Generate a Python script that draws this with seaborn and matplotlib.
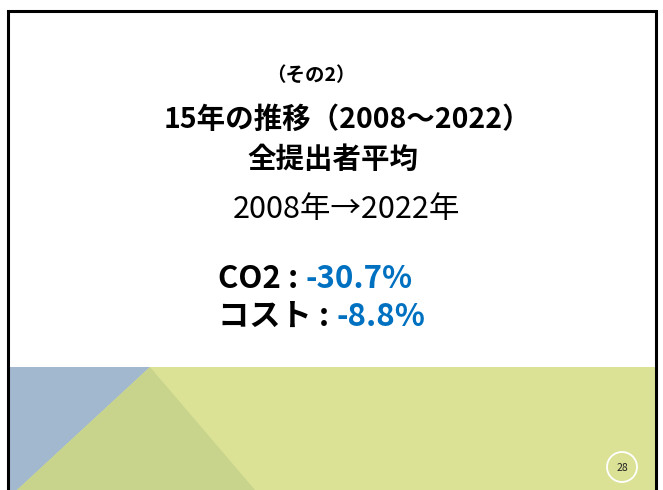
import matplotlib
matplotlib.use('Agg')
import matplotlib.pyplot as plt
import seaborn as sns
from matplotlib.patches import Polygon, Rectangle, Circle

sns.set_theme(style='white')
plt.rcParams['font.family'] = ['Noto Sans CJK JP', 'DejaVu Sans']

# slide text and values
subtitle = '（その2）'
title = '15年の推移（2008～2022）'
group = '全提出者平均'
period = '2008年→2022年'
items = ['CO2', 'コスト']
changes = [-30.7, -8.8]
page = '28'

fig = plt.figure(figsize=(6.63, 4.90), dpi=100)
ax = fig.add_axes([0, 0, 1, 1])
ax.set_xlim(0, 663)
ax.set_ylim(490, 0)
ax.axis('off')

# background shapes at the bottom of the slide
ax.add_patch(Rectangle((9, 367), 646, 123, color='#DBE296', lw=0))
ax.add_patch(Polygon([(9, 367), (150, 367), (17, 490), (9, 490)], color='#A2B8CF', lw=0))
ax.add_patch(Polygon([(150, 367), (255, 490), (17, 490)], color='#C8D48C', lw=0))

# slide border
ax.plot([8, 8, 655.5, 655.5], [490, 11, 11, 490], color='black', lw=2.2, solid_joinstyle='miter')

# page number badge
ax.add_patch(Circle((622, 467), 15, fill=False, ec='white', lw=1.3))
ax.text(622, 468, page, ha='center', va='center', fontsize=7.5, color='#222222')

ax.text(311, 75, subtitle, ha='center', va='center', fontsize=14, fontweight='bold', color='black')
ax.text(347, 120, title, ha='center', va='center', fontsize=20.5, fontweight='bold', color='black')
ax.text(333, 160, group, ha='center', va='center', fontsize=20.5, fontweight='bold', color='black')
ax.text(346, 209, period, ha='center', va='center', fontsize=22, color='black')

for i, (name, val) in enumerate(zip(items, changes)):
    y = 279 + i * 38
    t = ax.text(218, y, f'{name} : ', ha='left', va='center', fontsize=22.5,
                fontweight='bold', color='black')
    ax.annotate(f'{val:.1f}%', xy=(1, 0.5), xycoords=t, ha='left', va='center',
                fontsize=22.5, fontweight='bold', color='#0070C0')

fig.savefig('out.png', dpi=100)
